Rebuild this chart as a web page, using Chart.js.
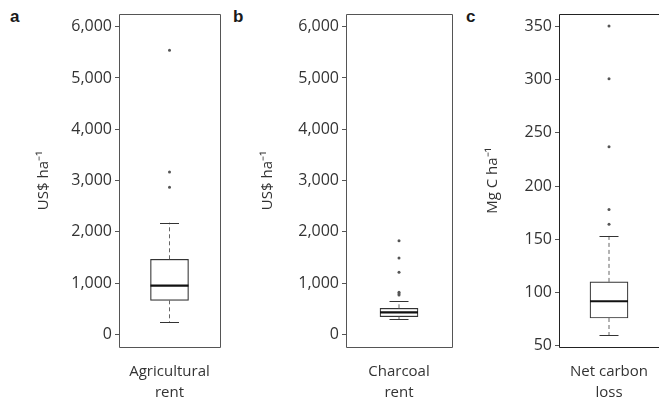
<!DOCTYPE html>
<html>
<head>
<meta charset="utf-8">
<script src="https://cdn.jsdelivr.net/npm/chart.js@4/dist/chart.umd.min.js"></script>
<style>
  body { margin: 0; width: 659px; height: 397px; overflow: hidden; background: #fff; position: relative; }
  canvas { position: absolute; top: 0; }
  .tag { position: absolute; top: 7px; font: bold 17px 'Liberation Sans', Arial, sans-serif; color: #1a1a1a; }
</style>
</head>
<body>
<div class="tag" style="left:10px">a</div>
<div class="tag" style="left:233px">b</div>
<div class="tag" style="left:466px">c</div>
<canvas id="ca" width="230" height="397" style="left:0"></canvas>
<canvas id="cb" width="230" height="397" style="left:230px"></canvas>
<canvas id="cc" width="203" height="397" style="left:460px"></canvas>
<script>
// box stats: [lower whisker, Q1, median, Q3, upper whisker]
const categories = [['Agricultural', 'rent'], ['Charcoal', 'rent'], ['Net carbon', 'loss']];
const yTitles = ['US$ ha\u207B\u00B9', 'US$ ha\u207B\u00B9', 'Mg C ha\u207B\u00B9'];
const boxAgri = [234, 663, 948, 1463, 2177];
const boxCharcoal = [293, 343, 429, 507, 644];
const boxCarbon = [59.7, 75.7, 91.5, 109.7, 153];
const outAgri = [5540, 3166, 2867];
const outCharcoal = [1826, 1488, 1209, 820, 790, 765];
const outCarbon = [350.7, 301, 236.9, 177.9, 164];
const ticksRent = [0, 1000, 2000, 3000, 4000, 5000, 6000];
const ticksCarbon = [50, 100, 150, 200, 250, 300, 350];

const ink = '#333';
const tickFont = { family: "'Open Sans', sans-serif", size: 16 };
const labelFont = { family: "'Open Sans', sans-serif", size: 15 };

const boxPlugin = {
  id: 'boxplot',
  afterDatasetsDraw(chart) {
    const { ctx, chartArea: a, scales: { y } } = chart;
    const bar = chart.getDatasetMeta(0).data[0];
    const st = chart.data.datasets[0].stats;
    const x = bar.x, half = bar.width / 2, cap = bar.width / 4;
    ctx.save();
    // whiskers
    ctx.strokeStyle = '#666';
    ctx.lineWidth = 1;
    ctx.setLineDash([4, 3]);
    ctx.beginPath();
    ctx.moveTo(x, y.getPixelForValue(st[3])); ctx.lineTo(x, y.getPixelForValue(st[4]));
    ctx.moveTo(x, y.getPixelForValue(st[1])); ctx.lineTo(x, y.getPixelForValue(st[0]));
    ctx.stroke();
    ctx.setLineDash([]);
    ctx.strokeStyle = ink;
    ctx.beginPath();
    [st[0], st[4]].forEach(v => {
      const py = Math.round(y.getPixelForValue(v)) + 0.5;
      ctx.moveTo(x - cap, py); ctx.lineTo(x + cap, py);
    });
    ctx.stroke();
    // median
    ctx.strokeStyle = '#111';
    ctx.lineWidth = 2.2;
    ctx.beginPath();
    const my = y.getPixelForValue(st[2]);
    ctx.moveTo(x - half, my); ctx.lineTo(x + half, my);
    ctx.stroke();
    // frame
    const o = chart.options.frame;
    const l = Math.round(a.left) + 0.5, t = Math.round(a.top) + 0.5;
    const r = Math.round(a.right) + 0.5, b = Math.round(a.bottom) + 0.5;
    ctx.strokeStyle = o.color;
    ctx.lineWidth = 1;
    ctx.beginPath();
    ctx.moveTo(r, t); ctx.lineTo(l, t); ctx.lineTo(l, b); ctx.lineTo(r, b);
    if (o.right) ctx.lineTo(r, t);
    ctx.stroke();
    ctx.restore();
  }
};

function makePanel(id, i, stats, outliers, yMin, yMax, tickVals, axisW, padR, titlePad, frame) {
  new Chart(document.getElementById(id), {
    type: 'bar',
    data: {
      labels: [categories[i]],
      datasets: [
        {
          type: 'bar', data: [[stats[1], stats[3]]], stats: stats,
          backgroundColor: '#fff', borderColor: ink, borderWidth: 1.2,
          borderSkipped: false, barThickness: 38
        },
        {
          type: 'scatter', data: outliers.map(v => ({ x: 0, y: v })),
          pointRadius: 1.5, pointBackgroundColor: '#555', pointBorderWidth: 0
        }
      ]
    },
    options: {
      responsive: false, animation: false, frame: frame,
      layout: { padding: { top: 14, right: padR, bottom: 0, left: 0 } },
      plugins: { legend: { display: false }, tooltip: { enabled: false } },
      scales: {
        x: {
          grid: { display: false }, border: { display: false },
          ticks: { color: ink, font: { ...labelFont, lineHeight: 1.4 }, padding: 6, maxRotation: 0 },
          afterFit: s => { s.height = 50; }
        },
        y: {
          min: yMin, max: yMax,
          afterBuildTicks: s => { s.ticks = tickVals.map(v => ({ value: v })); },
          grid: { drawOnChartArea: false, tickLength: 4, color: '#555' },
          border: { display: false },
          ticks: { color: ink, font: tickFont, padding: 3, callback: v => v.toLocaleString('en-US') },
          title: { display: true, text: yTitles[i], color: ink, font: labelFont, padding: { top: titlePad, bottom: 0 } },
          afterFit: s => { s.width = axisW; }
        }
      }
    },
    plugins: [boxPlugin]
  });
}

makePanel('ca', 0, boxAgri, outAgri, -248, 6248, ticksRent, 119, 10, 35, { color: '#555', right: true });
makePanel('cb', 1, boxCharcoal, outCharcoal, -248, 6248, ticksRent, 116, 8, 29, { color: '#555', right: true });
makePanel('cc', 2, boxCarbon, outCarbon, 48.4, 362, ticksCarbon, 99, 0, 24, { color: '#222', right: false });
</script>
</body>
</html>
